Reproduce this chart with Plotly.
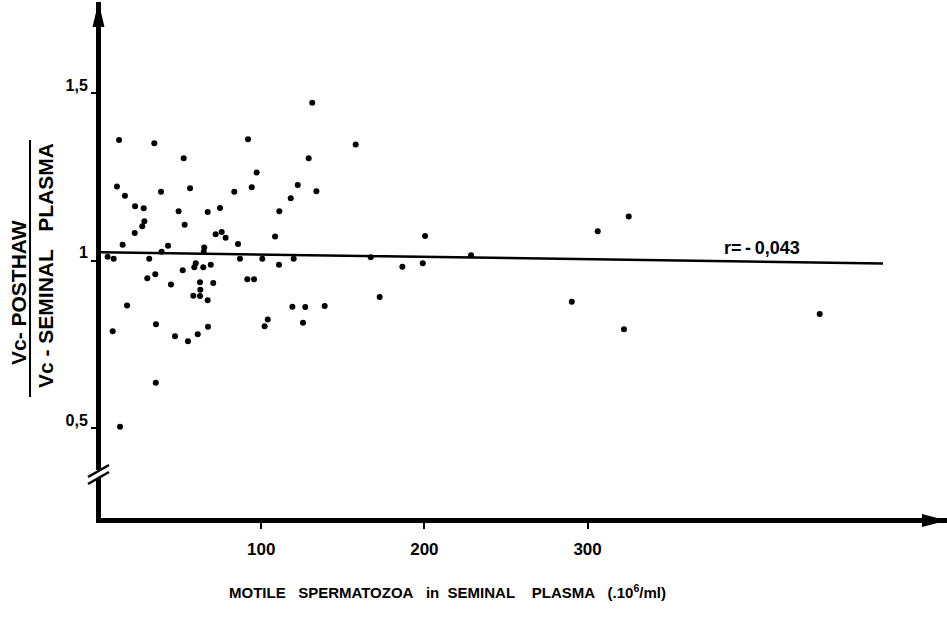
import plotly.graph_objects as go

# ---- data ----
motile_x = [12.9, 34.5, 52.5, 91.9, 97.2, 11.6, 16.5, 38.6, 56.4, 83.5, 94.2, 118.1,
            22.7, 28.0, 49.4, 67.2, 74.8, 111.1, 28.4, 27.1, 53.1, 22.5, 72.1, 75.8,
            78.2, 108.5, 15.1, 42.9, 85.8, 65.1, 39.0, 64.8, 5.9, 9.6, 31.4, 87.0,
            100.7, 119.9, 110.9, 59.9, 59.0, 64.5, 69.1, 51.9, 35.1, 30.2, 91.5, 95.6,
            44.7, 62.5, 70.6, 62.7, 58.4, 62.5, 67.2, 17.8, 119.1, 104.0, 102.1, 35.5,
            67.4, 9.0, 47.2, 61.1, 55.1, 35.4, 13.5, 131.3, 157.9, 129.1, 122.4, 133.8,
            200.4, 167.1, 228.6, 186.5, 199.0, 172.6, 127.0, 138.9, 125.6, 290.3, 306.2,
            322.3, 325.2, 442.2]
vc_ratio = [1.360, 1.350, 1.305, 1.362, 1.263, 1.221, 1.193, 1.205, 1.216, 1.205, 1.219, 1.186,
            1.162, 1.156, 1.147, 1.145, 1.157, 1.147, 1.117, 1.102, 1.107, 1.082, 1.078, 1.085,
            1.068, 1.072, 1.047, 1.044, 1.049, 1.039, 1.026, 1.026, 1.011, 1.005, 1.005, 1.005,
            1.005, 1.005, 0.987, 0.992, 0.980, 0.980, 0.987, 0.971, 0.959, 0.947, 0.944, 0.944,
            0.928, 0.935, 0.933, 0.913, 0.895, 0.894, 0.881, 0.866, 0.862, 0.824, 0.804, 0.810,
            0.802, 0.789, 0.774, 0.780, 0.759, 0.635, 0.504, 1.471, 1.346, 1.305, 1.225, 1.207,
            1.073, 1.010, 1.016, 0.981, 0.992, 0.891, 0.861, 0.864, 0.814, 0.877, 1.087,
            0.795, 1.131, 0.840]
fit_x = [0, 481]
fit_y = [1.025, 0.991]
x_tick_vals = [100, 200, 300]
x_tick_text = ["100", "200", "300"]
y_tick_vals = [0.5, 1.0, 1.5]
y_tick_text = ["0,5", "1", "1,5"]
r_label = "r=\u2009-\u20090,043"
r_pos = (407, 1.037)

FONT = "Liberation Sans"
NB = "\u00a0"

# ---- layout geometry (pixels) ----
W, H = 947, 619
L, R, T, B = 101, 0, 2, 101
PW, PH = W - L - R, H - T - B


def px(x):
    return (x - L) / PW


def py(y):
    return (H - B - y) / PH


fig = go.Figure()
fig.add_trace(go.Scatter(x=fit_x, y=fit_y, mode="lines",
                         line=dict(color="black", width=2.5), hoverinfo="skip"))
fig.add_trace(go.Scatter(x=motile_x, y=vc_ratio, mode="markers",
                         marker=dict(color="black", size=6)))

shapes = [
    # y-axis arrow head
    dict(type="path", xref="paper", yref="paper", fillcolor="black", line=dict(width=0),
         path=f"M{px(98.5)},{py(2)} L{px(92.5)},{py(27)} L{px(104.5)},{py(27)} Z"),
    # x-axis arrow head
    dict(type="path", xref="paper", yref="paper", fillcolor="black", line=dict(width=0),
         path=f"M{px(947)},{py(520.5)} L{px(922)},{py(514)} L{px(922)},{py(527)} Z"),
    # axis break
    dict(type="rect", xref="paper", yref="paper", fillcolor="white", line=dict(width=0),
         x0=px(93), x1=px(105), y0=py(478), y1=py(470)),
    dict(type="line", xref="paper", yref="paper", line=dict(color="black", width=2.5),
         x0=px(88), y0=py(484), x1=px(109), y1=py(472)),
    dict(type="line", xref="paper", yref="paper", line=dict(color="black", width=2.5),
         x0=px(88), y0=py(477), x1=px(109), y1=py(465)),
    # fraction bar of y title
    dict(type="line", xref="paper", yref="paper", line=dict(color="black", width=2),
         x0=px(30), y0=py(140), x1=px(30), y1=py(397)),
]

xtitle = (f"MOTILE{NB * 3}SPERMATOZOA{NB * 3}in{NB * 2}SEMINAL{NB * 4}PLASMA{NB * 3}"
          f"(.10<sup>6</sup>/ml)")

annotations = [
    dict(x=r_pos[0], y=r_pos[1], xref="x", yref="y", text=r_label, showarrow=False,
         xanchor="center", yanchor="middle",
         font=dict(family=FONT, size=18, color="black", weight="bold")),
    dict(x=px(447), y=py(591), xref="paper", yref="paper", showarrow=False,
         xanchor="center", yanchor="middle", text=xtitle,
         font=dict(family=FONT, size=15, color="black", weight="bold")),
    dict(x=px(18), y=py(293), xref="paper", yref="paper", showarrow=False, textangle=-90,
         xanchor="center", yanchor="middle", text=f"Vc-{NB}POSTHAW",
         font=dict(family=FONT, size=21, color="black", weight="bold")),
    dict(x=px(45), y=py(266), xref="paper", yref="paper", showarrow=False, textangle=-90,
         xanchor="center", yanchor="middle", text=f"Vc{NB}-{NB}SEMINAL{NB * 3}PLASMA",
         font=dict(family=FONT, size=21, color="black", weight="bold")),
]

x0 = (L - 98) / 1.632
x1 = (W - R - 98) / 1.632
y_top = 1.5 + (93 - T) / 335
y_bot = 1.5 - (H - B - 93) / 335

fig.update_layout(
    width=W, height=H, margin=dict(l=L, r=R, t=T, b=B),
    paper_bgcolor="white", plot_bgcolor="white", showlegend=False,
    shapes=shapes, annotations=annotations,
    xaxis=dict(range=[x0, x1], showgrid=False, zeroline=False, showline=True,
               linewidth=5, linecolor="black", ticks="outside", ticklen=6, tickwidth=2,
               tickcolor="black", tickvals=x_tick_vals, ticktext=x_tick_text,
               ticklabelstandoff=6,
               tickfont=dict(family=FONT, size=17, color="black", weight="bold")),
    yaxis=dict(range=[y_bot, y_top], showgrid=False, zeroline=False, showline=True,
               linewidth=5, linecolor="black", ticks="outside", ticklen=5, tickwidth=2,
               tickcolor="black", tickvals=y_tick_vals, ticktext=y_tick_text,
               ticklabelshift=-8,
               tickfont=dict(family=FONT, size=16, color="black", weight="bold")),
)

fig.write_html("out.html")
